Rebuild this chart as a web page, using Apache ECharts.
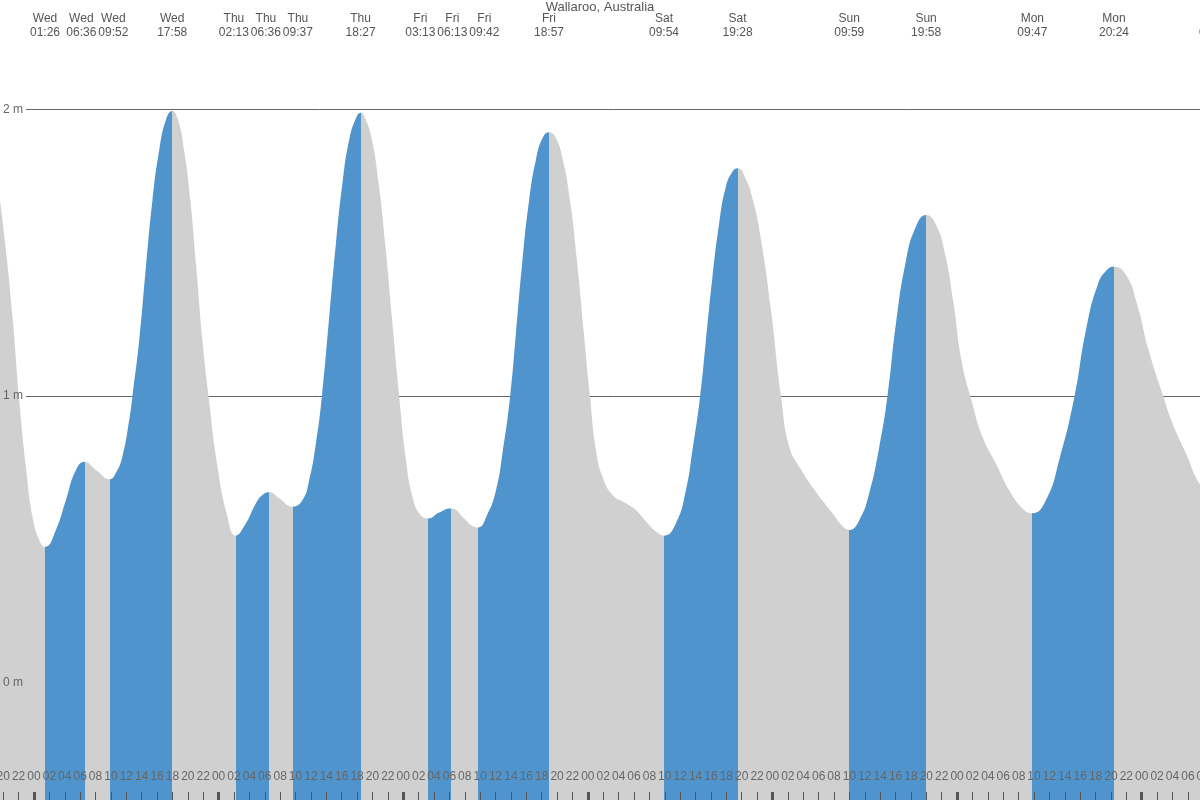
<!DOCTYPE html>
<html>
<head>
<meta charset="utf-8">
<script src="https://cdn.jsdelivr.net/npm/echarts@6/dist/echarts.min.js"></script>
<style>
html,body{margin:0;padding:0;background:#fff;}
#chart{width:1200px;height:800px;}
</style>
</head>
<body>
<div id="chart"></div>
<script>
// ---------- data ----------
const chartTitle = 'Wallaroo, Australia';

// tide extremes (alternating low / high), label text exactly as shown
const extremeDays  = ['Wed','Wed','Wed','Wed','Thu','Thu','Thu','Thu','Fri','Fri','Fri','Fri','Sat','Sat','Sun','Sun','Mon','Mon','Tue'];
const extremeTimes = ['01:26','06:36','09:52','17:58','02:13','06:36','09:37','18:27','03:13','06:13','09:42','18:57','09:54','19:28','09:59','19:58','09:47','20:24','09:24'];
const extremeHeights = [0.474,0.771,0.710,1.994,0.513,0.664,0.614,1.988,0.573,0.608,0.541,1.920,0.513,1.794,0.533,1.631,0.591,1.451,0.640];

// intermediate readings of the tide curve (hours from Wed 00:00, metres)
const sampleHours = [
  -4.6,-3.65,-2.8,-1.92,-1.05,-0.2,0.68,
  2.85,4.15,5.45,
  8.05,
  10.65,11.5,12.38,12.8,13.68,14.55,15.4,16.28,17.15,
  18.72,19.51,20.32,21.09,21.89,22.69,23.86,25.15,
  27.55,28.85,29.7,
  31.87,
  34.9,35.78,36.65,37.43,38.38,39.25,40.1,40.97,41.85,
  43.05,43.93,44.8,45.65,46.52,47.47,48.35,49.2,50.07,
  52.67,
  55.92,56.8,
  58.9,60.05,60.9,61.9,62.65,63.5,64.37,65.24,66.1,
  67.85,68.75,69.67,70.58,71.48,72.27,73.05,73.9,75.2,76.95,78.25,79.55,80.85,
  83.45,84.75,85.6,86.6,87.35,88.2,89.07,89.94,90.8,
  92.4,93.5,94.6,95.8,97.1,98.18,99.48,101.65,103.8,105.1,
  107.28,108.57,109.87,110.95,112.04,113.34,114.64,
  117.2,118.4,119.5,120.6,121.92,123.3,125.04,126.77,128.5,
  131.55,133.28,135.27,136.75,138.3,139.5,
  142.0,143.4,144.9,146.8,148.0,149.75,151.47,
  156.0
];
const sampleHeights = [
  1.72,1.509,1.277,0.986,0.753,0.579,0.498,
  0.533,0.637,0.742,
  0.742,
  0.732,0.790,0.917,1.0,1.195,1.451,1.684,1.858,1.963,
  1.963,1.858,1.684,1.451,1.195,1.0,0.753,0.579,
  0.556,0.626,0.655,
  0.643,
  0.637,0.707,0.835,1.0,1.277,1.533,1.742,1.893,1.969,
  1.969,1.893,1.742,1.533,1.277,1.0,0.777,0.649,0.591,
  0.594,
  0.573,0.55,
  0.585,0.67,0.80,1.0,1.219,1.474,1.684,1.823,1.899,
  1.899,1.823,1.684,1.474,1.219,1.0,0.812,0.719,0.655,0.626,0.602,0.562,0.527,
  0.556,0.672,0.812,1.0,1.195,1.416,1.602,1.73,1.782,
  1.765,1.68,1.53,1.30,1.0,0.823,0.753,0.666,0.591,0.547,
  0.567,0.66,0.82,1.0,1.25,1.47,1.59,
  1.60,1.50,1.33,1.12,0.98,0.858,0.765,0.672,0.608,
  0.637,0.777,1.0,1.23,1.39,1.44,
  1.42,1.32,1.16,1.0,0.905,0.80,0.696,
  0.66
];

const yTickValues = [0, 1, 2];
const dayOffsets = {Wed:0, Thu:24, Fri:48, Sat:72, Sun:96, Mon:120, Tue:144};

// ---------- derived ----------
const BLUE = '#4f94cd', GREY = '#d0d0d0', TEXT = '#555', TICK = '#555', GRIDLINE = '#666';
const xMin = -4.42, xMax = 155.476;
const yMin = -0.4091, yMax = 2.2068;

function toHours(day, time) {
  const p = time.split(':').map(Number);
  return dayOffsets[day] + p[0] + p[1] / 60;
}
const extremeHours = extremeDays.map((d, i) => toHours(d, extremeTimes[i]));

const points = [];
extremeHours.forEach((h, i) => points.push([h, extremeHeights[i]]));
sampleHours.forEach((h, i) => points.push([h, sampleHeights[i]]));
points.sort((a, b) => a[0] - b[0]);

// rising (low -> high) intervals are drawn blue
const risingPieces = [];
for (let i = 0; i + 1 < extremeHours.length; i += 2) {
  risingPieces.push({gte: extremeHours[i], lt: extremeHours[i + 1], color: BLUE});
}

const hourTicks = [];
for (let h = -4; h <= 156; h += 2) hourTicks.push(h);
const midnightTicks = [];
for (let h = 0; h <= 144; h += 24) midnightTicks.push(h);

// spread top labels so they do not overlap
function spreadLabels(pos, gap) {
  const p = pos.slice();
  for (let it = 0; it < 300; it++) {
    let moved = false;
    for (let i = 0; i < p.length - 1; i++) {
      const d = p[i + 1] - p[i];
      if (d < gap - 1e-6) { const s = (gap - d) / 2; p[i] -= s; p[i + 1] += s; moved = true; }
    }
    if (!moved) break;
  }
  return p;
}
const labelPos = spreadLabels(extremeHours, 4.16);
const labelMap = {};
labelPos.forEach((v, i) => { labelMap[v.toFixed(4)] = extremeDays[i] + '\n' + extremeTimes[i]; });

const chart = echarts.init(document.getElementById('chart'), null, {renderer: 'canvas'});
const FONT = '"Liberation Sans", Arial, sans-serif';

chart.setOption({
  animation: false,
  backgroundColor: '#fff',
  textStyle: {fontFamily: FONT},
  title: {
    text: chartTitle, left: 'center', top: 1, padding: 0,
    textStyle: {fontSize: 13, fontWeight: 'normal', color: TEXT, fontFamily: FONT}
  },
  grid: [
    {left: 0, right: -30, top: 50, bottom: 0, containLabel: false, outerBoundsMode: 'none'},
    {left: 26, right: -30, top: 50, bottom: 0, containLabel: false, outerBoundsMode: 'none'}
  ],
  visualMap: {
    type: 'piecewise', show: false, dimension: 0, seriesIndex: 0,
    pieces: risingPieces, outOfRange: {color: GREY}
  },
  xAxis: [
    {
      gridIndex: 0, type: 'value', min: xMin, max: xMax, position: 'bottom', z: 10,
      axisLine: {show: false, onZero: false}, splitLine: {show: false},
      axisTick: {show: true, inside: true, length: 8, lineStyle: {color: TICK, width: 1}, customValues: hourTicks},
      axisLabel: {
        show: true, inside: true, margin: 17, fontSize: 12, color: '#666', fontFamily: FONT,
        customValues: hourTicks, showMinLabel: true, showMaxLabel: true,
        formatter: v => String(((Math.round(v) % 24) + 24) % 24).padStart(2, '0')
      }
    },
    {
      gridIndex: 0, type: 'value', min: xMin, max: xMax, position: 'bottom', z: 11,
      axisLine: {show: false, onZero: false}, splitLine: {show: false},
      axisTick: {show: true, inside: true, length: 8, lineStyle: {color: TICK, width: 3}, customValues: midnightTicks},
      axisLabel: {show: false}
    },
    {
      gridIndex: 0, type: 'value', min: xMin, max: xMax, position: 'top', z: 10,
      axisLine: {show: false, onZero: false}, splitLine: {show: false}, axisTick: {show: false},
      axisLabel: {
        show: true, margin: 10, fontSize: 12, lineHeight: 14, color: TEXT, fontFamily: FONT,
        customValues: labelPos, showMinLabel: true, showMaxLabel: true,
        formatter: v => labelMap[Number(v).toFixed(4)] || ''
      }
    },
    {gridIndex: 1, type: 'value', min: 0, max: 1, show: false, axisLine: {onZero: false}}
  ],
  yAxis: [
    {
      gridIndex: 0, type: 'value', min: yMin, max: yMax, z: 10,
      axisLine: {show: false, onZero: false}, splitLine: {show: false},
      axisTick: {show: false, customValues: yTickValues},
      axisLabel: {
        show: true, inside: true, margin: 3, fontSize: 12, color: '#666', fontFamily: FONT,
        customValues: yTickValues, formatter: v => v + ' m'
      }
    },
    {
      gridIndex: 1, type: 'value', min: yMin, max: yMax, z: 0,
      axisLine: {show: false, onZero: false}, axisLabel: {show: false},
      axisTick: {show: false, customValues: yTickValues},
      splitLine: {show: true, lineStyle: {color: GRIDLINE, width: 1}}
    }
  ],
  series: [
    {
      type: 'line', xAxisIndex: 0, yAxisIndex: 0, data: points,
      smooth: 0.5, symbol: 'none', showSymbol: false, silent: true, z: 2,
      lineStyle: {width: 0, opacity: 0},
      areaStyle: {opacity: 1, origin: 'start'}
    }
  ]
});
</script>
</body>
</html>
